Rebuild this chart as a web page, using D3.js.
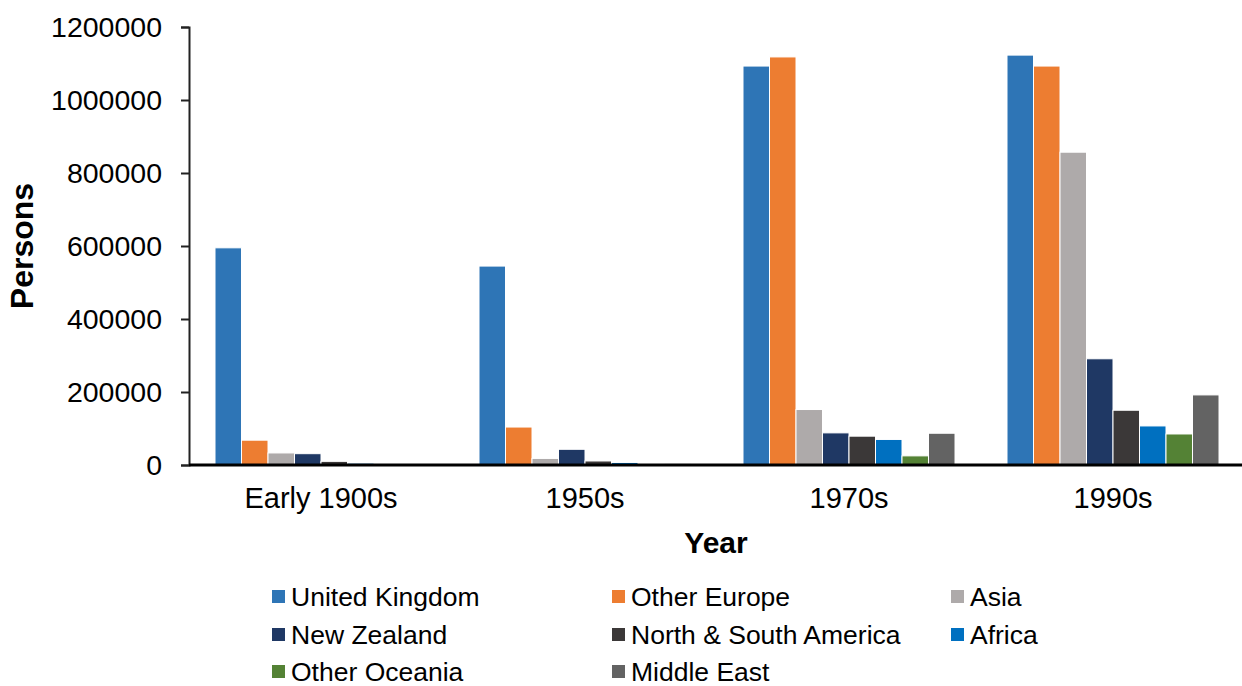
<!DOCTYPE html>
<html>
<head>
<meta charset="utf-8">
<script src="https://cdn.jsdelivr.net/npm/d3@7"></script>
<style>
  html, body { margin: 0; padding: 0; background: #fff; }
  svg { display: block; font-family: "Liberation Sans", Arial, sans-serif; }
</style>
</head>
<body>
<svg id="chart" width="1242" height="686"></svg>
<script>
// Decades on the x axis
const periods = ["Early 1900s", "1950s", "1970s", "1990s"];

// Birthplace regions (one bar per region in each decade)
const regions = ["United Kingdom", "Other Europe", "Asia", "New Zealand",
                 "North & South America", "Africa", "Other Oceania", "Middle East"];

// Persons arriving, per region, in the order of `periods`
const unitedKingdom = [595000, 545000, 1093000, 1123000];
const otherEurope   = [68000, 104000, 1118000, 1093000];
const asia          = [33000, 18000, 152000, 857000];
const newZealand    = [31000, 43000, 88000, 291000];
const americas      = [10000, 11000, 79000, 150000];
const africa        = [5000, 7000, 70000, 107000];
const otherOceania  = [1000, 1000, 25000, 85000];
const middleEast    = [1000, 3000, 87000, 192000];

const seriesValues = [unitedKingdom, otherEurope, asia, newZealand,
                      americas, africa, otherOceania, middleEast];

const yTicks = [0, 200000, 400000, 600000, 800000, 1000000, 1200000];

const colors = ["#2E75B6", "#ED7D31", "#AEAAAA", "#1F3864",
                "#3B3838", "#0070C0", "#548235", "#636363"];

(function draw() {
  const svg = d3.select("#chart");
  const plotLeft = 189, plotRight = 1245, plotTop = 27, plotBottom = 465;

  const x0 = d3.scaleBand().domain(periods).range([plotLeft, plotRight]).padding(0);
  // the eight bars fill the middle of each decade band
  const x1 = d3.scaleBand().domain(regions).range([26, x0.bandwidth() - 26]).padding(0);

  const y = d3.scaleLinear().domain([0, 1200000]).range([plotBottom, plotTop]);

  // Bars
  const groups = svg.append("g").selectAll("g")
    .data(periods)
    .join("g")
    .attr("transform", d => `translate(${x0(d)},0)`);

  groups.selectAll("rect")
    .data((p, i) => regions.map((r, k) => ({ region: r, value: seriesValues[k][i], k })))
    .join("rect")
    .attr("x", d => x1(d.region))
    .attr("y", d => y(d.value))
    .attr("width", x1.bandwidth())
    .attr("height", d => plotBottom - y(d.value))
    .attr("fill", d => colors[d.k])
    .attr("stroke", "#ffffff")
    .attr("stroke-width", 1);

  // Y axis
  const yAxis = svg.append("g")
    .attr("transform", `translate(${plotLeft},0)`)
    .call(d3.axisLeft(y).tickValues(yTicks).tickSize(8).tickPadding(19).tickFormat(d3.format("d")));
  yAxis.select(".domain").attr("stroke", "#222").attr("stroke-width", 2);
  yAxis.selectAll(".tick line").attr("stroke", "#222").attr("stroke-width", 2);
  yAxis.selectAll(".tick text").attr("font-size", 28.5).attr("fill", "#000")
    .attr("font-family", "Liberation Sans, Arial, sans-serif");

  // X axis baseline
  const xAxis = svg.append("g")
    .attr("transform", `translate(0,${plotBottom})`)
    .call(d3.axisBottom(x0).tickSize(0).tickPadding(22));
  xAxis.select(".domain").attr("stroke", "#000").attr("stroke-width", 3)
    .attr("d", `M${plotLeft},0H1242`);
  xAxis.selectAll(".tick text").attr("font-size", 29).attr("fill", "#000")
    .attr("font-family", "Liberation Sans, Arial, sans-serif");

  // Axis titles
  svg.append("text")
    .attr("x", 716).attr("y", 553)
    .attr("text-anchor", "middle")
    .attr("font-size", 30).attr("font-weight", "bold")
    .text("Year");

  svg.append("text")
    .attr("transform", "translate(33,246) rotate(-90)")
    .attr("text-anchor", "middle")
    .attr("font-size", 32).attr("font-weight", "bold")
    .text("Persons");

  // Legend: three columns, three rows
  const legendCols = [272, 612, 951];
  const legendRows = [597, 635, 672];
  const legend = svg.append("g").selectAll("g")
    .data(regions)
    .join("g")
    .attr("transform", (d, i) => `translate(${legendCols[i % 3]},${legendRows[Math.floor(i / 3)]})`);

  legend.append("rect")
    .attr("x", 0).attr("y", -7)
    .attr("width", 13).attr("height", 13)
    .attr("fill", (d, i) => colors[i]);

  legend.append("text")
    .attr("x", 19).attr("y", 0)
    .attr("dy", "0.35em")
    .attr("font-size", 26.5)
    .text(d => d);
})();
</script>
</body>
</html>
